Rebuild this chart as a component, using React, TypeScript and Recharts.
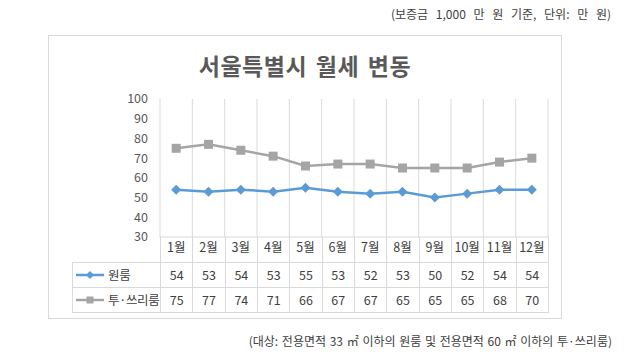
import React from "react";
import { LineChart, Line, XAxis, YAxis, CartesianGrid } from "recharts";

const months = ["1월", "2월", "3월", "4월", "5월", "6월", "7월", "8월", "9월", "10월", "11월", "12월"];
const oneRoom = [54, 53, 54, 53, 55, 53, 52, 53, 50, 52, 54, 54];
const twoThreeRoom = [75, 77, 74, 71, 66, 67, 67, 65, 65, 65, 68, 70];
const yTicks = [30, 40, 50, 60, 70, 80, 90, 100];

const seriesNames = ["원룸", "투·쓰리룸"];
const COLORS = ["#5B9BD5", "#A5A5A5"];

const FONT = "'Noto Sans CJK KR', 'Noto Sans', sans-serif";
const GRID = "#D9D9D9";
const TEXT = "#404040";

const data = months.map((m, i) => ({ month: m, oneRoom: oneRoom[i], twoThree: twoThreeRoom[i] }));

const Diamond = (props: any) => {
    const { cx, cy } = props;
    if (cx == null || cy == null) return null;
    return <path d={`M${cx},${cy - 5} L${cx + 5},${cy} L${cx},${cy + 5} L${cx - 5},${cy} Z`} fill={COLORS[0]} />;
};

const Square = (props: any) => {
    const { cx, cy } = props;
    if (cx == null || cy == null) return null;
    return <rect x={cx - 4.5} y={cy - 4.5} width={9} height={9} fill={COLORS[1]} />;
};

function LegendIcon({ index }: { index: number }) {
    const c = COLORS[index];
    return (
        <svg width={28} height={12} style={{ display: "block", flex: "none" }}>
            <line x1={0} y1={6} x2={28} y2={6} stroke={c} strokeWidth={2.5} />
            {index === 0 ? (
                <path d="M14,2 L18,6 L14,10 L10,6 Z" fill={c} />
            ) : (
                <rect x={10.5} y={2.5} width={7} height={7} fill={c} />
            )}
        </svg>
    );
}

export default function App() {
    const rows = [oneRoom, twoThreeRoom];
    const cellBorder = `1px solid ${GRID}`;

    return (
        <div style={{ position: "absolute", left: 0, top: 0, width: 640, height: 356, background: "#fff", fontFamily: FONT, overflow: "hidden" }}>
            {/* unit note */}
            <div style={{ position: "absolute", right: 29, top: 5, fontSize: 12, color: TEXT, wordSpacing: 5, whiteSpace: "nowrap" }}>
                (보증금 1,000 만 원 기준, 단위: 만 원)
            </div>

            {/* chart frame */}
            <div style={{ position: "absolute", left: 48, top: 35, width: 512, height: 282, border: cellBorder }} />

            <div style={{ position: "absolute", left: 48, width: 514, top: 48, textAlign: "center", fontSize: 23, fontWeight: 700, color: "#595959", letterSpacing: 0.5, wordSpacing: 3 }}>
                서울특별시 월세 변동
            </div>

            <div style={{ position: "absolute", left: 0, top: 0 }}>
                <LineChart width={640} height={356} data={data} margin={{ top: 99, right: 92, bottom: 94, left: 100 }}>
                    <CartesianGrid
                        horizontal={false}
                        stroke={GRID}
                        verticalCoordinatesGenerator={({ offset }: any) =>
                            months.map((_, i) => offset.left + (i * offset.width) / months.length).concat([offset.left + offset.width])
                        }
                    />
                    <XAxis
                        dataKey="month"
                        scale="band"
                        height={25}
                        tickLine={false}
                        tickSize={0}
                        tickMargin={6}
                        axisLine={{ stroke: GRID }}
                        tick={{ fontSize: 12.5, fill: TEXT, fontFamily: FONT }}
                        interval={0}
                    />
                    <YAxis
                        width={60}
                        domain={[30, 100]}
                        ticks={yTicks}
                        interval={0}
                        axisLine={false}
                        tickLine={false}
                        tickSize={0}
                        tickMargin={12}
                        tick={{ fontSize: 12.5, fill: "#595959", fontFamily: FONT }}
                    />
                    <Line dataKey="oneRoom" name={seriesNames[0]} stroke={COLORS[0]} strokeWidth={2.5} dot={<Diamond />} activeDot={false} isAnimationActive={false} />
                    <Line dataKey="twoThree" name={seriesNames[1]} stroke={COLORS[1]} strokeWidth={2.5} dot={<Square />} activeDot={false} isAnimationActive={false} />
                </LineChart>
            </div>

            {/* data table */}
            <table style={{ position: "absolute", left: 72, top: 237, borderCollapse: "collapse", tableLayout: "fixed", width: 477, fontSize: 12.5, color: TEXT, fontFamily: FONT }}>
                <colgroup>
                    <col style={{ width: 88 }} />
                    {months.map((m) => (
                        <col key={m} />
                    ))}
                </colgroup>
                <tbody>
                    <tr style={{ height: 25 }}>
                        <td style={{ padding: 0 }} />
                        {months.map((m) => (
                            <td key={m} style={{ borderLeft: cellBorder, borderRight: cellBorder, padding: 0 }} />
                        ))}
                    </tr>
                    {rows.map((vals, r) => (
                        <tr key={r} style={{ height: 25 }}>
                            <td style={{ border: cellBorder, padding: "0 0 0 3px", whiteSpace: "nowrap", overflow: "hidden" }}>
                                <div style={{ display: "flex", alignItems: "center", gap: 4, fontSize: 12.5, letterSpacing: -0.3 }}>
                                    <LegendIcon index={r} />
                                    <span>{seriesNames[r]}</span>
                                </div>
                            </td>
                            {vals.map((v, i) => (
                                <td key={i} style={{ border: cellBorder, textAlign: "center", padding: 0 }}>
                                    {v}
                                </td>
                            ))}
                        </tr>
                    ))}
                </tbody>
            </table>

            {/* footnote */}
            <div style={{ position: "absolute", right: 28, top: 332, fontSize: 12, color: TEXT, wordSpacing: 1, whiteSpace: "nowrap" }}>
                (대상: 전용면적 33 ㎡ 이하의 원룸 및 전용면적 60 ㎡ 이하의 투·쓰리룸)
            </div>
        </div>
    );
}
